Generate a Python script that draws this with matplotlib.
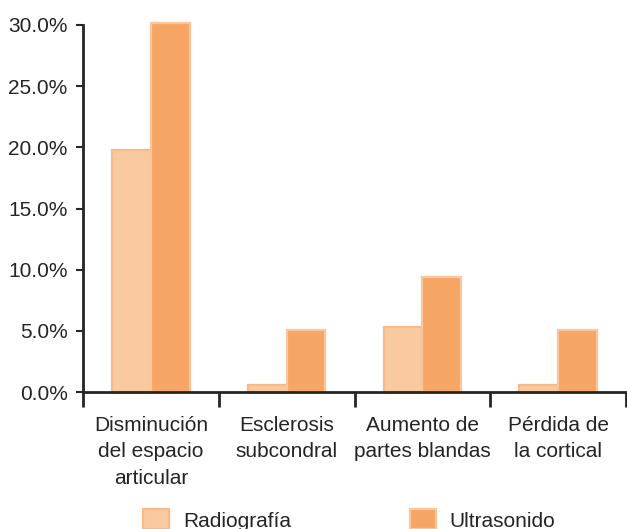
import matplotlib
matplotlib.use("Agg")
import matplotlib.pyplot as plt
import numpy as np
from matplotlib.patches import Patch

categories = ["Disminución\ndel espacio\narticular", "Esclerosis\nsubcondral",
              "Aumento de\npartes blandas", "Pérdida de\nla cortical"]
radiografia = [19.8, 0.6, 5.3, 0.6]
ultrasonido = [30.2, 5.1, 9.4, 5.1]
yticks = [0, 5, 10, 15, 20, 25, 30]
series_names = ["Radiografía", "Ultrasonido"]

rad_fill, rad_edge = "#F9C9A0", "#F8BA88"
us_fill, us_edge = "#F7A564", "#FAC69C"
ink = "#262425"

plt.rcParams["font.family"] = ["Liberation Sans", "DejaVu Sans"]
plt.rcParams["font.size"] = 15

fig = plt.figure(figsize=(6.27, 5.29), dpi=100)
ax = fig.add_axes([83 / 627, 137 / 529, (626 - 83) / 627, (392 - 25) / 529])

x = np.arange(len(categories)) + 0.5
w = 0.285
ax.bar(x - w / 2, radiografia, width=w, color=rad_fill, edgecolor=rad_edge,
       linewidth=1.6, clip_on=False, zorder=2)
ax.bar(x + w / 2, ultrasonido, width=w, color=us_fill, edgecolor=us_edge,
       linewidth=1.6, clip_on=False, zorder=2)

ax.set_xlim(0, len(categories))
ax.set_ylim(0, 30)
ax.set_yticks(yticks)
ax.set_yticklabels([f"{v:.1f}%" for v in yticks], color=ink)

# category boundaries carry the ticks, labels sit at group centres
ax.set_xticks(np.arange(len(categories) + 1))
ax.set_xticklabels([])
ax.set_xticks(x, minor=True)
ax.set_xticklabels(categories, minor=True, color=ink, linespacing=1.5)
ax.tick_params(axis="x", which="major", direction="out", length=11, width=2, color=ink)
ax.tick_params(axis="x", which="minor", length=0, pad=17)
ax.tick_params(axis="y", direction="out", length=5, width=1.5, color=ink, pad=6)

for side in ["top", "right"]:
    ax.spines[side].set_visible(False)
for side in ["left", "bottom"]:
    ax.spines[side].set_color(ink)
    ax.spines[side].set_linewidth(2)
    ax.spines[side].set_zorder(3)

handles = [Patch(facecolor=rad_fill, edgecolor=rad_edge, linewidth=1.6),
           Patch(facecolor=us_fill, edgecolor=us_edge, linewidth=1.6)]
fig.legend(handles, series_names, loc="center", bbox_to_anchor=(349 / 627, 1 - 520 / 529),
           ncol=2, frameon=False, handlelength=1.25, handleheight=1.1,
           handletextpad=0.67, columnspacing=5.7, labelcolor=ink,
           borderpad=0, borderaxespad=0)

fig.savefig("out.png", dpi=100)
